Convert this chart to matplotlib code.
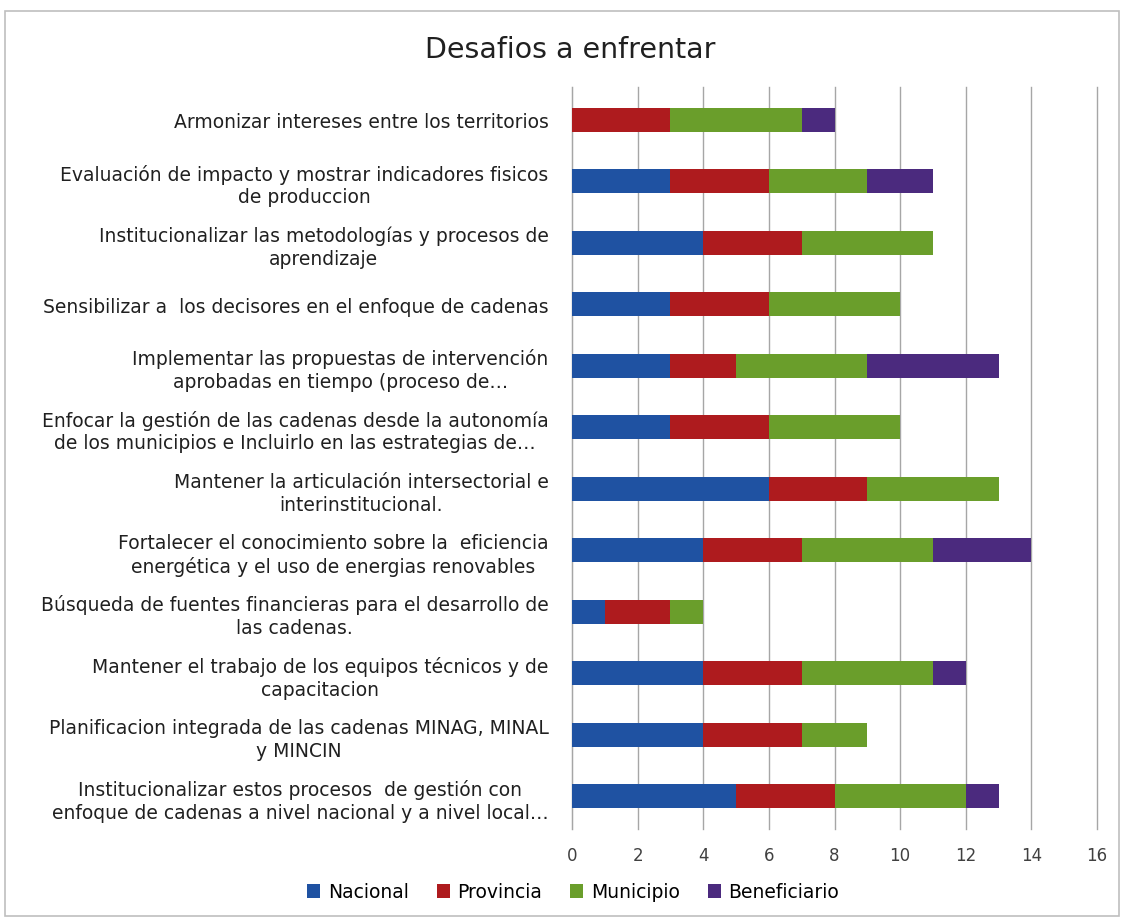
import matplotlib
matplotlib.use("Agg")
import matplotlib.pyplot as plt
import numpy as np

categories = [
    "Armonizar intereses entre los territorios",
    "Evaluación de impacto y mostrar indicadores fisicos\nde produccion",
    "Institucionalizar las metodologías y procesos de\naprendizaje",
    "Sensibilizar a  los decisores en el enfoque de cadenas",
    "Implementar las propuestas de intervención\naprobadas en tiempo (proceso de…",
    "Enfocar la gestión de las cadenas desde la autonomía\nde los municipios e Incluirlo en las estrategias de…",
    "Mantener la articulación intersectorial e\ninterinstitucional.",
    "Fortalecer el conocimiento sobre la  eficiencia\nenergética y el uso de energias renovables",
    "Búsqueda de fuentes financieras para el desarrollo de\nlas cadenas.",
    "Mantener el trabajo de los equipos técnicos y de\ncapacitacion",
    "Planificacion integrada de las cadenas MINAG, MINAL\ny MINCIN",
    "Institucionalizar estos procesos  de gestión con\nenfoque de cadenas a nivel nacional y a nivel local…",
]
nacional     = [0, 3, 4, 3, 3, 3, 6, 4, 1, 4, 4, 5]
provincia    = [3, 3, 3, 3, 2, 3, 3, 3, 2, 3, 3, 3]
municipio    = [4, 3, 4, 4, 4, 4, 4, 4, 1, 4, 2, 4]
beneficiario = [1, 2, 0, 0, 4, 0, 0, 3, 0, 1, 0, 1]

series_names = ["Nacional", "Provincia", "Municipio", "Beneficiario"]
colors = ["#1F52A2", "#AE1B1E", "#6A9E2B", "#4B2A7E"]
xticks = [0, 2, 4, 6, 8, 10, 12, 14, 16]

fig = plt.figure(figsize=(11.24, 9.2), dpi=100)
fig.patches.append(plt.Rectangle((5/1124, 0.003), 1114/1124, 1 - 12/920 - 0.003,
                                 transform=fig.transFigure, fill=False,
                                 edgecolor="#BFBFBF", linewidth=1.2))
ax = fig.add_axes([572/1124, 1 - 830/920, (1097 - 572)/1124, (830 - 88)/920])

n = len(categories)
y = np.arange(n)[::-1]
left = np.zeros(n)
for name, vals, c in zip(series_names, [nacional, provincia, municipio, beneficiario], colors):
    vals = np.array(vals, dtype=float)
    ax.barh(y, vals, left=left, height=0.39, color=c, label=name, zorder=3)
    left += vals

ax.set_xlim(0, 16)
ax.set_ylim(-0.53, n - 0.47)
ax.set_xticks(xticks)
ax.set_xticklabels([str(t) for t in xticks], fontsize=12, color="#404040")
ax.set_yticks(y)
ax.set_yticklabels(categories, fontsize=13.5, color="#202020",
                   multialignment="center", linespacing=1.25)
ax.tick_params(axis="y", length=0, pad=17)
ax.tick_params(axis="x", length=0, pad=12)
ax.grid(axis="x", color="#A6A6A6", linewidth=1, zorder=0)
for gl in ax.get_xgridlines():
    gl.set_clip_on(False)
for s in ["top", "right", "bottom"]:
    ax.spines[s].set_visible(False)
ax.spines["left"].set_color("#A6A6A6")

fig.text(0.507, 1 - 50/920, "Desafios a enfrentar", ha="center", va="center",
         fontsize=20.5, color="#202020")

handles, labels = ax.get_legend_handles_labels()
fig.legend(handles, labels, loc="center", bbox_to_anchor=(0.51, 1 - 893/920), ncol=4,
           frameon=False, fontsize=13.5, handlelength=0.7, handleheight=0.7,
           handletextpad=0.4, columnspacing=1.5)

fig.savefig("out.png", dpi=100)
